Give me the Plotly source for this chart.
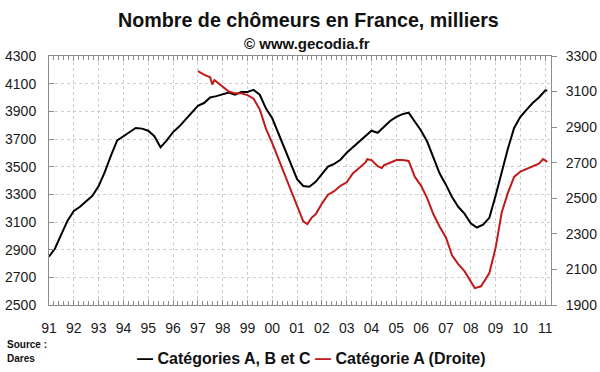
import plotly.graph_objects as go
from datetime import date, timedelta

# Catégories A, B et C (left axis), thousands
abc_dates = ["1991-01", "1991-04", "1991-07", "1991-10", "1992-01", "1992-04", "1992-07", "1992-10",
             "1993-01", "1993-04", "1993-07", "1993-10", "1994-01", "1994-04", "1994-07", "1994-10",
             "1995-01", "1995-04", "1995-07", "1995-10", "1996-01", "1996-04", "1996-07", "1996-10",
             "1997-01", "1997-04", "1997-07", "1997-10", "1998-01", "1998-04", "1998-07", "1998-10",
             "1999-01", "1999-04", "1999-07", "1999-10", "2000-01", "2000-04", "2000-07", "2000-10",
             "2001-01", "2001-04", "2001-07", "2001-10", "2002-01", "2002-04", "2002-07", "2002-10",
             "2003-01", "2003-04", "2003-07", "2003-10", "2004-01", "2004-04", "2004-07", "2004-10",
             "2005-01", "2005-04", "2005-07", "2005-10", "2006-01", "2006-04", "2006-07", "2006-10",
             "2007-01", "2007-04", "2007-07", "2007-10", "2008-01", "2008-04", "2008-07", "2008-10",
             "2009-01", "2009-04", "2009-07", "2009-10", "2010-01", "2010-04", "2010-07", "2010-10",
             "2011-01", "2011-02"]
abc_values = [2850, 2910, 3010, 3110, 3180, 3210, 3250, 3290,
              3360, 3460, 3580, 3690, 3720, 3750, 3780, 3775,
              3760, 3720, 3640, 3690, 3750, 3790, 3840, 3890,
              3940, 3960, 4000, 4010, 4020, 4035, 4020, 4040,
              4040, 4055, 4020, 3920, 3850, 3740, 3630, 3510,
              3410, 3360, 3355, 3390, 3450, 3500, 3520, 3550,
              3600, 3640, 3680, 3720, 3760, 3745, 3790, 3830,
              3860, 3880, 3890, 3820, 3760, 3680, 3560, 3450,
              3370, 3280, 3210, 3160, 3090, 3060, 3080, 3130,
              3290, 3470, 3630, 3780, 3860, 3910, 3960, 4000,
              4050, 4050]

# Catégorie A (right axis), thousands
a_dates = ["1997-01", "1997-04", "1997-07", "1997-08", "1997-09", "1998-01", "1998-04", "1998-07",
           "1998-10", "1999-01", "1999-04", "1999-07", "1999-10", "2000-01", "2000-04", "2000-07",
           "2000-10", "2001-01", "2001-04", "2001-06", "2001-08", "2001-10", "2002-01", "2002-04",
           "2002-07", "2002-10", "2003-01", "2003-04", "2003-07", "2003-10", "2003-11", "2004-01",
           "2004-04", "2004-06", "2004-07", "2004-10", "2005-01", "2005-04", "2005-07", "2005-10",
           "2006-01", "2006-04", "2006-07", "2006-10", "2007-01", "2007-04", "2007-07", "2007-10",
           "2008-01", "2008-03", "2008-06", "2008-08", "2008-10", "2009-01", "2009-04", "2009-07",
           "2009-10", "2010-01", "2010-04", "2010-07", "2010-10", "2010-12", "2011-02"]
a_values = [3215, 3195, 3180, 3140, 3165, 3130, 3100, 3090,
            3090, 3080, 3060, 3000, 2890, 2810, 2720, 2640,
            2550, 2450, 2370, 2355, 2390, 2410, 2470, 2520,
            2540, 2570, 2590, 2640, 2670, 2700, 2720, 2715,
            2680, 2670, 2685, 2700, 2715, 2715, 2710, 2620,
            2570, 2500, 2410, 2340, 2280, 2180, 2130, 2090,
            2030, 1995, 2005, 2040, 2080, 2220, 2420, 2530,
            2620, 2650, 2665, 2680, 2695, 2720, 2705]

years = list(range(1991, 2012))
year_labels = [f"{y % 100:02d}" for y in years]
left_ticks = list(range(2500, 4301, 200))
right_ticks = list(range(1900, 3301, 200))

FONT = "Liberation Sans, Arial, sans-serif"
RED = "#c01a1a"
AXIS = "#8c8c8c"
GRID = "#cdcdcd"
TXT = "#1a1a1a"

W, H = 600, 372
ML, MR, MT, MB = 49, 49, 56, 67

year_ticks = [f"{y}-01-01" for y in years]
minor_ticks = []
for y in years[:-1]:
    d0 = date(y, 1, 1)
    for k in range(1, 5):
        minor_ticks.append((d0 + timedelta(days=73 * k)).isoformat())

fig = go.Figure()
fig.add_trace(go.Scatter(x=abc_dates, y=abc_values, mode="lines", name="Catégories A, B et C",
                         line=dict(color="#000000", width=2)))
fig.add_trace(go.Scatter(x=a_dates, y=a_values, mode="lines", name="Catégorie A (Droite)",
                         line=dict(color=RED, width=2), yaxis="y2"))

plot_h = H - MT - MB
plot_w = W - ML - MR
def py(pixel_y):
    return (H - MB - pixel_y) / plot_h
def px(pixel_x):
    return (pixel_x - ML) / plot_w

fig.update_layout(
    width=W, height=H,
    margin=dict(l=ML, r=MR, t=MT, b=MB, autoexpand=False),
    paper_bgcolor="white", plot_bgcolor="white",
    font=dict(family=FONT, color=TXT, size=14),
    showlegend=False,
    xaxis=dict(type="date", range=["1991-01-01", "2011-03-28"],
               tickmode="array", tickvals=year_ticks, ticktext=year_labels,
               showgrid=True, gridcolor=GRID, griddash="dot", gridwidth=1,
               showline=True, linecolor=AXIS, linewidth=1, mirror="ticks",
               ticks="inside", ticklen=5, tickcolor=AXIS,
               minor=dict(tickmode="array", tickvals=minor_ticks, ticks="inside", ticklen=4,
                          tickcolor=AXIS, showgrid=False),
               tickfont=dict(size=14, color=TXT), ticklabelstandoff=10,
               zeroline=False),
    yaxis=dict(range=[2500, 4300], tickvals=left_ticks, showgrid=True,
               gridcolor=GRID, griddash="dot", gridwidth=1,
               showline=True, linecolor=AXIS, linewidth=1,
               ticks="inside", ticklen=5, tickcolor=AXIS, ticklabelstandoff=9,
               tickfont=dict(size=14, color=TXT), zeroline=False),
    yaxis2=dict(range=[1900, 3300], tickvals=right_ticks, overlaying="y", side="right",
                showgrid=False, showline=True, linecolor=AXIS, linewidth=1,
                ticks="outside", ticklen=5, tickcolor=AXIS, ticklabelstandoff=6,
                tickfont=dict(size=14, color=TXT), zeroline=False),
    annotations=[
        dict(text="<b>Nombre de chômeurs en France, milliers</b>", x=px(308), y=py(20),
             xref="paper", yref="paper", xanchor="center", yanchor="middle",
             showarrow=False, font=dict(size=19.7, color="#111111")),
        dict(text="<b>© www.gecodia.fr</b>", x=px(307), y=py(43), xref="paper", yref="paper",
             xanchor="center", yanchor="middle",
             showarrow=False, font=dict(size=15, color="#111111")),
        dict(text="<b>Source :</b>", x=px(5), y=py(344), xref="paper", yref="paper",
             xanchor="left", yanchor="middle",
             showarrow=False, font=dict(size=10, color="#111111")),
        dict(text="<b>Dares</b>", x=px(5), y=py(358), xref="paper", yref="paper",
             xanchor="left", yanchor="middle",
             showarrow=False, font=dict(size=10, color="#111111")),
        dict(text=("<b><span style='color:#000000'>—</span> Catégories A, B et C "
                   f"<span style='color:{RED}'>—</span> Catégorie A (Droite)</b>"),
             x=px(311), y=py(358), xref="paper", yref="paper",
             xanchor="center", yanchor="middle",
             showarrow=False, font=dict(size=16, color="#111111")),
    ],
)

fig.write_html("out.html", config={"displayModeBar": False},
               post_script="document.body.style.margin='0';document.body.style.padding='0';")
